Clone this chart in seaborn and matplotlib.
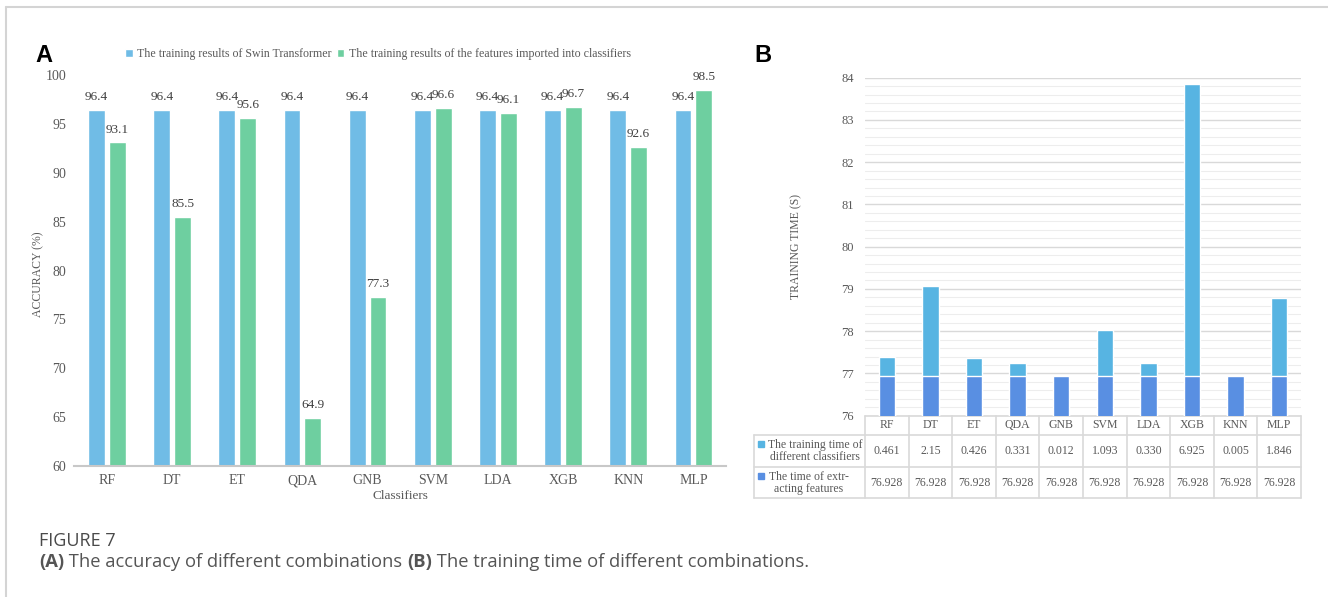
import numpy as np
import pandas as pd
import matplotlib
matplotlib.use("Agg")
import matplotlib.pyplot as plt
import seaborn as sns
from matplotlib.patches import Rectangle
from matplotlib.lines import Line2D
import matplotlib.transforms as mtransforms

# ---------------- data ----------------
classifiers = ["RF", "DT", "ET", "QDA", "GNB", "SVM", "LDA", "XGB", "KNN", "MLP"]
swin_acc = [96.4, 96.4, 96.4, 96.4, 96.4, 96.4, 96.4, 96.4, 96.4, 96.4]
clf_acc = [93.1, 85.5, 95.6, 64.9, 77.3, 96.6, 96.1, 96.7, 92.6, 98.5]
series_names = ["The training results of Swin Transformer",
                "The training results of the features imported into classifiers"]
train_time = [0.461, 2.15, 0.426, 0.331, 0.012, 1.093, 0.330, 6.925, 0.005, 1.846]
extract_time = [76.928] * 10
train_time_labels = ["0.461", "2.15", "0.426", "0.331", "0.012", "1.093", "0.330", "6.925", "0.005", "1.846"]
extract_time_labels = ["76.928"] * 10
row_labels = ["The training time of\ndifferent classifiers", "The time of extr-\nacting features"]

# ---------------- style ----------------
sns.set_style("white")
plt.rcParams["font.family"] = ["Liberation Serif", "DejaVu Serif"]

BLUE_A = "#70BCE6"
GREEN_A = "#6ECFA0"
LIGHT_B = "#57B4E2"
DARK_B = "#598FE2"
TXT = "#595959"

W, H = 1328, 597
fig = plt.figure(figsize=(W / 100, H / 100), dpi=100)
fig.patch.set_facecolor("white")

def fx(px):
    return px / W

def fy(py):
    return 1 - py / H

# ---------------- panel A ----------------
axA = fig.add_axes([fx(74.4), fy(466), fx(726) - fx(74.4), fy(75) - fy(466)])
dfA = pd.DataFrame({
    "Classifier": classifiers * 2,
    "Accuracy": swin_acc + clf_acc,
    "Series": [series_names[0]] * len(classifiers) + [series_names[1]] * len(classifiers),
})
sns.barplot(data=dfA, x="Classifier", y="Accuracy", hue="Series", order=classifiers,
            hue_order=series_names, palette=[BLUE_A, GREEN_A], width=0.64, gap=0.19,
            saturation=1, ax=axA, legend=True)
axA.set_ylim(60, 100)
axA.set_xlim(-0.5, len(classifiers) - 0.5)
axA.set_yticks(np.arange(60, 101, 5))
for c in axA.containers:
    axA.bar_label(c, fmt="%.1f", padding=5, fontsize=9.5, color="#404040")
for s in ["top", "right", "left"]:
    axA.spines[s].set_visible(False)
axA.spines["bottom"].set_color("#c8c8c8")
axA.spines["bottom"].set_linewidth(1.5)
axA.tick_params(axis="both", length=0, labelsize=10, labelcolor=TXT)
axA.tick_params(axis="x", pad=6)
axA.tick_params(axis="y", pad=6)
axA.set_xlabel("Classifiers", fontsize=9.5, color=TXT, labelpad=2)
axA.set_ylabel("ACCURACY (%)", fontsize=8.5, color=TXT)
axA.yaxis.set_label_coords(-0.046, 0.49)
h, l = axA.get_legend_handles_labels()
axA.legend_.remove()
fig.legend(h, l, loc="center", bbox_to_anchor=(fx(378), fy(54)), ncol=2, frameon=False,
           fontsize=8.6, handlelength=0.65, handleheight=0.65, handletextpad=0.35,
           columnspacing=0.4, labelcolor=TXT)

# ---------------- panel B ----------------
axB = fig.add_axes([fx(865), fy(415.7), fx(1301) - fx(865), fy(77.7) - fy(415.7)])
totals = [e + t for e, t in zip(extract_time, train_time)]
sns.barplot(x=classifiers, y=totals, order=classifiers, color=LIGHT_B, width=0.38,
            saturation=1, ax=axB, zorder=3)
sns.barplot(x=classifiers, y=extract_time, order=classifiers, color=DARK_B, width=0.38,
            saturation=1, ax=axB, zorder=3)
axB.set_ylim(76, 84)
axB.set_xlim(-0.5, len(classifiers) - 0.5)
axB.set_yticks(np.arange(76, 85, 1))
axB.set_yticks(np.arange(76, 84.01, 0.2), minor=True)
axB.grid(axis="y", which="major", color="#d9d9d9", lw=1.0, zorder=0)
axB.grid(axis="y", which="minor", color="#ededed", lw=0.8, zorder=0)
axB.set_axisbelow(True)
for s in ["top", "right", "left", "bottom"]:
    axB.spines[s].set_visible(False)
axB.tick_params(axis="y", which="both", length=0, labelsize=9, labelcolor=TXT, pad=8)
axB.set_xticks([])
axB.set_xlabel("")
axB.set_ylabel("TRAINING TIME (S)", fontsize=8.5, color=TXT)
axB.yaxis.set_label_coords(-0.144, 0.5)

# table under panel B
def ay(py):
    return (415.7 - py) / 338.0

tblue = mtransforms.blended_transform_factory(axB.transData, axB.transAxes)
LC = "#d9d9d9"
y_top, y_h, y_r2, y_r3 = ay(415.7), ay(435), ay(467.3), ay(498.3)
x_lab = (754 - 865) / 436.0
for yy, x0 in [(y_top, 0), (y_h, x_lab), (y_r2, x_lab), (y_r3, x_lab)]:
    axB.add_line(Line2D([x0, 1], [yy, yy], transform=axB.transAxes, color=LC, lw=1.2, clip_on=False))
for i in range(len(classifiers) + 1):
    axB.add_line(Line2D([i - 0.5, i - 0.5], [y_top, y_r3], transform=tblue, color=LC, lw=1.2, clip_on=False))
axB.add_line(Line2D([x_lab, x_lab], [y_h, y_r3], transform=axB.transAxes, color=LC, lw=1.2, clip_on=False))

for i, name in enumerate(classifiers):
    axB.text(i, (y_top + y_h) / 2, name, transform=tblue, ha="center", va="center",
             fontsize=8.5, color=TXT)
    axB.text(i, (y_h + y_r2) / 2, train_time_labels[i], transform=tblue, ha="center", va="center",
             fontsize=8.5, color=TXT)
    axB.text(i, (y_r2 + y_r3) / 2, extract_time_labels[i], transform=tblue, ha="center", va="center",
             fontsize=8.5, color=TXT)

for (lab, col, yc, xc) in [(row_labels[0], LIGHT_B, (y_h + y_r2) / 2, 815),
                           (row_labels[1], DARK_B, (y_r2 + y_r3) / 2, 809)]:
    axB.text((xc - 865) / 436.0, yc, lab, transform=axB.transAxes, ha="center", va="center",
             multialignment="center", fontsize=8.5, color=TXT, linespacing=1.0)
    sq_y = yc + 0.021
    axB.add_patch(Rectangle(((758 - 865) / 436.0, sq_y - 3 / 338.0), 6 / 436.0, 6 / 338.0,
                            transform=axB.transAxes, color=col, clip_on=False))

# ---------------- panel letters ----------------
fig.text(fx(35), fy(62), "A", fontsize=17, fontweight="bold", family=["Liberation Sans", "DejaVu Sans"],
         va="baseline", color="black")
fig.text(fx(754), fy(62), "B", fontsize=17, fontweight="bold", family=["Liberation Sans", "DejaVu Sans"],
         va="baseline", color="black")

# ---------------- border ----------------
fig.add_artist(Line2D([fx(6), 1], [fy(7), fy(7)], transform=fig.transFigure, color="#d4d4d4", lw=1.5))
fig.add_artist(Line2D([fx(6), fx(6)], [fy(7), 0], transform=fig.transFigure, color="#d4d4d4", lw=1.5))

# ---------------- caption ----------------
cap_fam = ["Open Sans", "DejaVu Sans"]
fig.text(fx(39), fy(546), "FIGURE 7", fontsize=13, family=cap_fam, color="#4a4a4a", va="baseline")
renderer = fig.canvas.get_renderer()
x = fx(39)
parts = [("(A)", "bold"), (" The accuracy of different combinations ", "normal"),
         ("(B)", "bold"), (" The training time of different combinations.", "normal")]
for s, wgt in parts:
    t = fig.text(x, fy(567), s, fontsize=13.2, fontweight=wgt, family=cap_fam, color="#555555",
                 va="baseline")
    bb = t.get_window_extent(renderer=renderer)
    x = bb.x1 / fig.bbox.width

fig.savefig("out.png", dpi=100, facecolor="white")
